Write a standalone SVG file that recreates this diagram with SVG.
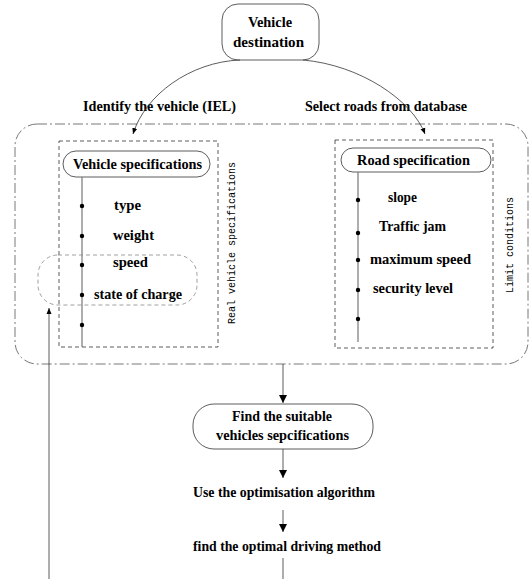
<svg xmlns="http://www.w3.org/2000/svg" width="531" height="579" viewBox="0 0 531 579">
<defs>
<style>
.t{font-family:"Liberation Serif","Times New Roman",serif;font-weight:bold;font-size:14px;fill:#000}
.r{font-family:"Liberation Mono","Courier New",monospace;font-size:10px;fill:#000}
.box{fill:#fff;stroke:#333;stroke-width:0.8}
.dash{fill:none;stroke:#333;stroke-width:0.8;stroke-dasharray:4 3}
.ln{fill:none;stroke:#333;stroke-width:0.8}
.gl{fill:none;stroke:#777;stroke-width:1.2}
</style>
<marker id="ah" viewBox="0 0 8 12" refX="8" refY="6" markerWidth="8" markerHeight="12" markerUnits="userSpaceOnUse" orient="auto"><path d="M0,2 L8,6 L0,10 Z" fill="#000"/></marker>
<marker id="as" viewBox="0 0 6 6" refX="6" refY="3" markerWidth="6" markerHeight="6" markerUnits="userSpaceOnUse" orient="auto"><path d="M0,0.5 L6,3 L0,5.5 Z" fill="#000"/></marker>
</defs>
<rect width="531" height="579" fill="#fff"/>

<g id="outer">
<rect x="15" y="124" width="513" height="240" rx="22" fill="none" stroke="#555" stroke-width="0.8" stroke-dasharray="10 3 2 3"/>
<text class="r" transform="translate(513,245) rotate(-90)" text-anchor="middle">Limit conditions</text>
</g>

<g id="destination">
<rect class="box" x="222" y="4" width="97" height="56" rx="16"/>
<text class="t" x="248" y="27" textLength="44" lengthAdjust="spacingAndGlyphs">Vehicle</text>
<text class="t" x="233" y="47" textLength="71" lengthAdjust="spacingAndGlyphs">destination</text>
</g>

<g id="vehicle-group">
<rect class="dash" x="59" y="141" width="159" height="206"/>
<text class="r" transform="translate(235,243) rotate(-90)" text-anchor="middle">Real vehicle specifications</text>
</g>
<g id="vehicle-spec">
<rect class="box" x="63" y="151" width="147" height="26" rx="13"/>
<text class="t" x="73" y="169" textLength="129" lengthAdjust="spacingAndGlyphs">Vehicle specifications</text>
</g>
<g id="vehicle-items">
<line class="gl" x1="82" y1="177" x2="82" y2="347"/>
<circle cx="82" cy="206" r="2.2"/><circle cx="82" cy="236" r="2.2"/><circle cx="82" cy="265" r="2.2"/><circle cx="82" cy="295" r="2.2"/><circle cx="82" cy="325" r="2.2"/>
<text class="t" x="114" y="210" textLength="27" lengthAdjust="spacingAndGlyphs">type</text>
<text class="t" x="113" y="240" textLength="41" lengthAdjust="spacingAndGlyphs">weight</text>
<text class="t" x="113" y="267" textLength="35" lengthAdjust="spacingAndGlyphs">speed</text>
<text class="t" x="94" y="299" textLength="88" lengthAdjust="spacingAndGlyphs">state of charge</text>
</g>
<g id="speed-group">
<rect x="38" y="255" width="159" height="50" rx="20" fill="none" stroke="#888" stroke-width="0.8" stroke-dasharray="4 3"/>
</g>

<g id="road-group">
<rect class="dash" x="335" y="140" width="158" height="208"/>
</g>
<g id="road-spec">
<rect class="box" x="341" y="148" width="150" height="24" rx="12"/>
<text class="t" x="357" y="165" textLength="113" lengthAdjust="spacingAndGlyphs">Road specification</text>
</g>
<g id="road-items">
<line class="gl" x1="358" y1="172" x2="358" y2="342"/>
<circle cx="358" cy="200" r="2.2"/><circle cx="358" cy="233" r="2.2"/><circle cx="358" cy="260" r="2.2"/><circle cx="358" cy="290" r="2.2"/><circle cx="358" cy="319" r="2.2"/>
<text class="t" x="388" y="202" textLength="29" lengthAdjust="spacingAndGlyphs">slope</text>
<text class="t" x="379" y="231" textLength="67" lengthAdjust="spacingAndGlyphs">Traffic jam</text>
<text class="t" x="370" y="264" textLength="101" lengthAdjust="spacingAndGlyphs">maximum speed</text>
<text class="t" x="373" y="293" textLength="80" lengthAdjust="spacingAndGlyphs">security level</text>
</g>

<g id="find-node">
<rect class="box" x="193" y="404" width="180" height="45" rx="21"/>
<text class="t" x="232" y="421" textLength="100" lengthAdjust="spacingAndGlyphs">Find the suitable</text>
<text class="t" x="216" y="440" textLength="133" lengthAdjust="spacingAndGlyphs">vehicles sepcifications</text>
</g>
<g id="use-node">
<text class="t" x="193" y="497" textLength="182" lengthAdjust="spacingAndGlyphs">Use the optimisation algorithm</text>
</g>
<g id="optimal-node">
<text class="t" x="193" y="551" textLength="188" lengthAdjust="spacingAndGlyphs">find the optimal driving method</text>
</g>

<g id="labels">
<text class="t" x="83" y="111" textLength="153" lengthAdjust="spacingAndGlyphs">Identify the vehicle (IEL)</text>
<text class="t" x="305" y="111" textLength="162" lengthAdjust="spacingAndGlyphs">Select roads from database</text>
</g>

<g id="connectors">
<path class="ln" d="M240,60 C190,62 145,95 133,134" marker-end="url(#as)"/>
<path class="ln" d="M303,60 C360,65 412,100 425,134" marker-end="url(#as)"/>
<line class="ln" x1="283" y1="364" x2="283" y2="403" marker-end="url(#ah)"/>
<line class="ln" x1="283" y1="449" x2="283" y2="478" marker-end="url(#ah)"/>
<line class="ln" x1="283" y1="510" x2="283" y2="532" marker-end="url(#ah)"/>
<line class="ln" x1="283" y1="558" x2="283" y2="579"/>
<line class="ln" x1="49" y1="579" x2="49" y2="308" marker-end="url(#as)"/>
</g>
</svg>
